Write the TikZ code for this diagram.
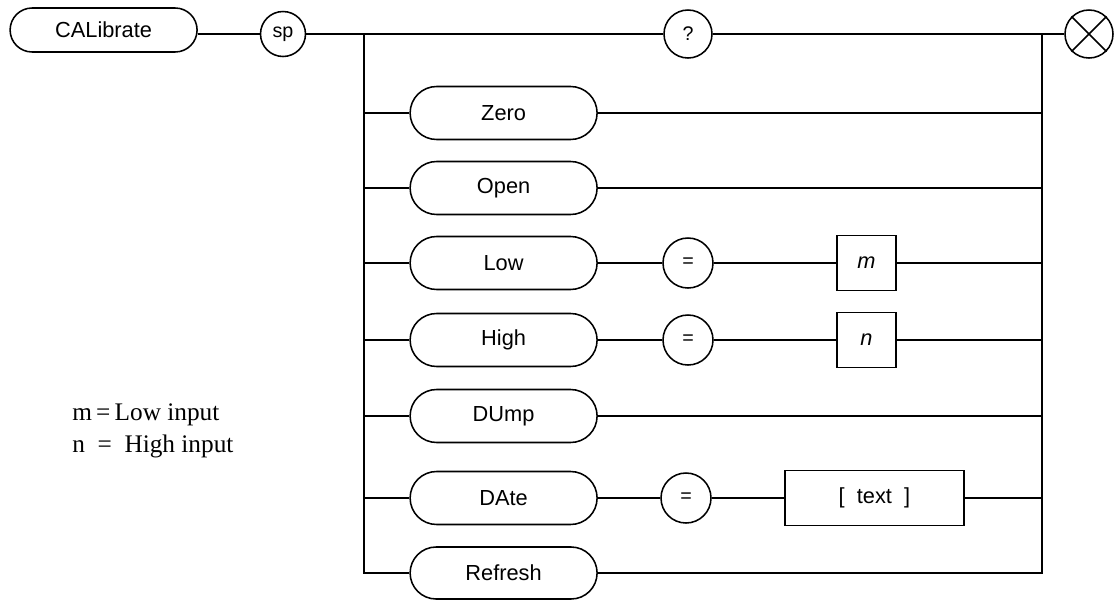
\documentclass[tikz,border=0pt]{standalone}
\usepackage{fontspec}
\setmainfont{Liberation Serif}
\setsansfont{Liberation Sans}
\usepackage{tikz}
\usetikzlibrary{positioning,shapes.misc}

\begin{document}
\begin{tikzpicture}[
    keyword/.style={draw=black, rounded rectangle, minimum width=4.675cm, minimum height=1.325cm, inner sep=0pt, font=\sffamily\fontsize{15.5}{18}\selectfont, line width=1.1pt},
    symbol/.style={draw=black, circle, minimum size=1.25cm, inner sep=0pt, font=\sffamily\fontsize{14}{16}\selectfont, line width=1.1pt},
    param/.style={draw=black, rectangle, minimum height=1.375cm, inner sep=0pt, font=\sffamily\itshape\fontsize{15.5}{18}\selectfont, line width=1.1pt},
    rail/.style={draw=black, line width=1.1pt},
    legend/.style={anchor=base west, inner sep=0pt, font=\fontsize{18}{21}\selectfont}
]
    \useasboundingbox (0,0) rectangle (27.85,-14.975);

    % Command and separator
    \node[keyword, minimum height=1.1cm] (calibrate) at (2.59, -0.75) {CALibrate};
    \node[symbol, minimum size=1.125cm] (sp) at (7.075, -0.85) {sp};
    \node[symbol, minimum size=1.2cm] (qmark) at (17.2, -0.85) {?};
    \node[symbol, minimum size=1.2cm] (stopnode) at (27.225, -0.85) {};
    \draw[rail] (stopnode.north west) -- (stopnode.south east);
    \draw[rail] (stopnode.north east) -- (stopnode.south west);

    \coordinate (lsplit) at (9.1, -0.85);
    \coordinate (rjoin) at (26.05, -0.85);

    % Main line
    \draw[rail] (calibrate.east |- sp) -- (sp);
    \draw[rail] (sp) -- (qmark);
    \draw[rail] (qmark) -- (stopnode);

    % Options
    \node[keyword] (zero) at (12.59, -2.825) {Zero};
    \node[keyword] (open) at (12.59, -4.7) {Open};
    \node[keyword] (low) at (12.59, -6.575) {Low};
    \node[keyword] (high) at (12.59, -8.5) {High};
    \node[keyword] (dump) at (12.59, -10.4) {DUmp};
    \node[keyword] (date) at (12.59, -12.45) {DAte};
    \node[keyword, minimum height=1.3cm] (refresh) at (12.59, -14.325) {Refresh};

    % Values
    \node[symbol] (loweq) at (17.2, -6.575) {=};
    \node[symbol] (higheq) at (17.2, -8.5) {=};
    \node[symbol] (dateeq) at (17.15, -12.45) {=};
    \node[param, minimum width=1.475cm] (mval) at (21.66, -6.575) {m};
    \node[param, minimum width=1.475cm] (nval) at (21.66, -8.5) {n};
    \node[param, minimum width=4.475cm, font=\sffamily\fontsize{15.5}{18}\selectfont] (textval) at (21.86, -12.45) {[\ \ text\ \ ]};

    % Rails
    \draw[rail] (lsplit) |- (refresh.west);
    \draw[rail] (rjoin) |- (refresh.east);

    \draw[rail] (lsplit |- zero) -- (zero);
    \draw[rail] (zero) -- (rjoin |- zero);
    \draw[rail] (lsplit |- open) -- (open);
    \draw[rail] (open) -- (rjoin |- open);
    \draw[rail] (lsplit |- low) -- (low);
    \draw[rail] (low) -- (loweq);
    \draw[rail] (loweq) -- (mval);
    \draw[rail] (mval) -- (rjoin |- mval);
    \draw[rail] (lsplit |- high) -- (high);
    \draw[rail] (high) -- (higheq);
    \draw[rail] (higheq) -- (nval);
    \draw[rail] (nval) -- (rjoin |- nval);
    \draw[rail] (lsplit |- dump) -- (dump);
    \draw[rail] (dump) -- (rjoin |- dump);
    \draw[rail] (lsplit |- date) -- (date);
    \draw[rail] (date) -- (dateeq);
    \draw[rail] (dateeq) -- (textval);
    \draw[rail] (textval) -- (rjoin |- textval);

    % Legend
    \node[legend] (mnote) at (1.8, -10.5) {m\,=\,Low input};
    \node[legend] (nnote) at (1.8, -11.3) {n \ = \ High input};

\end{tikzpicture}
\end{document}
